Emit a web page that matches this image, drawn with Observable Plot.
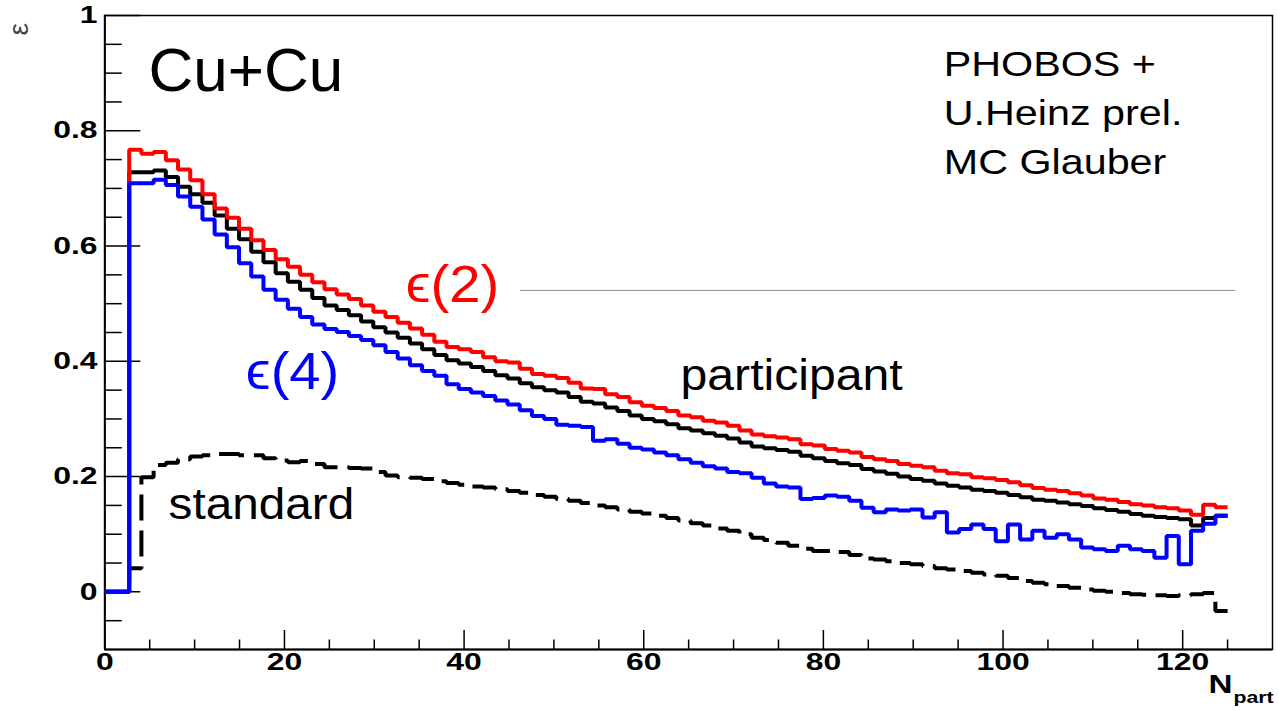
<!DOCTYPE html>
<html><head><meta charset="utf-8">
<script src="https://cdn.jsdelivr.net/npm/d3@7"></script>
<script src="https://cdn.jsdelivr.net/npm/@observablehq/plot@0.6"></script>
<style>html,body{margin:0;padding:0;background:#fff;} svg{display:block;}</style>
</head><body><div id="chart"></div>
<script>
// Histogram binning of Npart (92 bins from 0 to 125)
const binLow = 0, binHigh = 125, binCount = 92;

// epsilon(2) participant eccentricity (red)
const eps2 = [0,0,
0.767,0.760,0.763,0.749,0.733,0.714,0.690,0.665,0.649,0.630,
0.610,0.593,0.577,0.564,0.550,0.537,0.525,0.516,0.508,0.497,
0.486,0.477,0.467,0.457,0.446,0.434,0.425,0.421,0.416,0.407,
0.400,0.398,0.387,0.378,0.375,0.371,0.363,0.353,0.352,0.343,
0.338,0.329,0.323,0.319,0.314,0.306,0.303,0.297,0.294,0.288,
0.280,0.273,0.270,0.268,0.265,0.256,0.254,0.248,0.245,0.242,
0.234,0.230,0.227,0.222,0.219,0.216,0.210,0.206,0.204,0.199,
0.197,0.194,0.190,0.185,0.180,0.177,0.175,0.171,0.167,0.162,
0.160,0.156,0.152,0.150,0.147,0.145,0.141,0.134,0.151,0.147];

// participant eccentricity (black solid)
const epsPart = [0,0,
0.728,0.728,0.731,0.720,0.703,0.690,0.675,0.653,0.630,0.612,
0.590,0.572,0.553,0.538,0.524,0.510,0.497,0.489,0.480,0.469,
0.459,0.450,0.441,0.431,0.421,0.411,0.402,0.396,0.390,0.383,
0.376,0.370,0.362,0.355,0.350,0.346,0.338,0.330,0.327,0.320,
0.314,0.306,0.300,0.296,0.291,0.284,0.280,0.275,0.271,0.266,
0.259,0.252,0.249,0.246,0.243,0.236,0.232,0.227,0.223,0.220,
0.213,0.209,0.205,0.200,0.196,0.193,0.188,0.184,0.181,0.177,
0.175,0.172,0.168,0.164,0.160,0.158,0.155,0.152,0.149,0.145,
0.142,0.139,0.135,0.132,0.130,0.128,0.126,0.115,0.128,0.132];

// epsilon(4) (blue)
const eps4 = [0,0,
0.709,0.709,0.715,0.706,0.686,0.668,0.646,0.620,0.598,0.570,
0.547,0.524,0.507,0.491,0.477,0.464,0.456,0.451,0.444,0.437,
0.428,0.416,0.405,0.393,0.383,0.375,0.360,0.352,0.346,0.340,
0.332,0.325,0.315,0.305,0.300,0.290,0.288,0.286,0.262,0.265,
0.257,0.250,0.247,0.242,0.237,0.230,0.224,0.218,0.214,0.208,
0.206,0.198,0.188,0.183,0.181,0.161,0.163,0.167,0.165,0.158,
0.146,0.138,0.143,0.141,0.143,0.129,0.138,0.103,0.109,0.117,
0.109,0.088,0.117,0.091,0.106,0.094,0.100,0.091,0.077,0.074,
0.071,0.080,0.074,0.071,0.059,0.097,0.048,0.106,0.118,0.132];

// standard eccentricity (black dashed)
const epsStd = [0,0,
0.041,0.199,0.220,0.224,0.230,0.235,0.237,0.239,0.239,0.237,
0.237,0.232,0.228,0.225,0.227,0.222,0.216,0.216,0.215,0.214,
0.208,0.202,0.199,0.198,0.196,0.192,0.189,0.186,0.183,0.181,
0.178,0.175,0.172,0.168,0.165,0.161,0.158,0.154,0.150,0.147,
0.143,0.139,0.136,0.132,0.128,0.124,0.119,0.115,0.110,0.106,
0.100,0.094,0.090,0.085,0.080,0.075,0.071,0.071,0.069,0.064,
0.058,0.056,0.053,0.050,0.048,0.045,0.041,0.039,0.036,0.033,
0.030,0.028,0.024,0.019,0.016,0.013,0.010,0.007,0.004,0.002,
0.000,-0.002,-0.004,-0.005,-0.006,-0.007,-0.006,-0.004,-0.002,-0.033];

const xMajorTicks = [0,20,40,60,80,100,120];
const xMinorTicks = [5,10,15,25,30,35,45,50,55,65,70,75,85,90,95,105,110,115,125];
const yMajorTicks = [0,0.2,0.4,0.6,0.8,1];
const yMinorTicks = [-0.05,0.05,0.1,0.15,0.25,0.3,0.35,0.45,0.5,0.55,0.65,0.7,0.75,0.85,0.9,0.95];
const xTickLabels = ["0","20","40","60","80","100","120"];
const yTickLabels = ["0","0.2","0.4","0.6","0.8","1"];
const phobosLines = ["PHOBOS +","U.Heinz prel.","MC Glauber"];

const W = 1278, H = 710;
const M = {top: 15, right: 6, bottom: 61, left: 104.3};
const FW = W - M.left - M.right, FH = H - M.top - M.bottom;
const binWidth = (binHigh - binLow) / binCount;
function histRows(values) {
  const rows = values.map((v, i) => ({x: binLow + i * binWidth, y: v}));
  rows.push({x: binLow + values.length * binWidth, y: values[values.length - 1]});
  return rows;
}
const font = '"Liberation Sans", Arial, Helvetica, "DejaVu Sans", sans-serif';
const histStyle = {x: "x", y: "y", curve: "step-after", strokeWidth: 4, strokeLinejoin: "miter", strokeLinecap: "butt"};
const phobosY = [0.914, 0.830, 0.745];

const plot = Plot.plot({
  width: W, height: H,
  marginTop: M.top, marginRight: M.right, marginBottom: M.bottom, marginLeft: M.left,
  x: {domain: [0, 130], axis: null},
  y: {domain: [-0.1, 1], axis: null},
  style: {fontFamily: font, background: "white", color: "black", overflow: "visible"},
  marks: [
    Plot.frame({stroke: "black", strokeWidth: 1.5}),
    Plot.ruleX([0], {stroke: "black", strokeWidth: 2}),
    Plot.ruleY([-0.1], {stroke: "black", strokeWidth: 2}),
    Plot.tickX(xMajorTicks, {x: d => d, insetTop: FH - 19, stroke: "black", strokeWidth: 1.5}),
    Plot.tickX(xMinorTicks, {x: d => d, insetTop: FH - 9.5, stroke: "black", strokeWidth: 1.5}),
    Plot.tickY(yMajorTicks, {y: d => d, insetRight: FW - 36, stroke: "black", strokeWidth: 1.5}),
    Plot.tickY(yMinorTicks, {y: d => d, insetRight: FW - 17.5, stroke: "black", strokeWidth: 1.5}),
    Plot.ruleY([0.523], {x1: 46.3, x2: 125.9, stroke: "#8c8c8c", strokeWidth: 1}),
    Plot.line(histRows(epsStd), {...histStyle, stroke: "black", strokeDasharray: "26,10"}),
    Plot.line(histRows(epsPart), {...histStyle, stroke: "black"}),
    Plot.line(histRows(eps2), {...histStyle, stroke: "#ff0000"}),
    Plot.line(histRows(eps4), {...histStyle, stroke: "#0000ff"}),
    Plot.text(xMajorTicks, {x: d => d, text: (d, i) => xTickLabels[i], frameAnchor: "bottom", dy: 20, fontSize: 24, fontWeight: "bold", fill: "black"}),
    Plot.text(yMajorTicks, {y: d => d, text: (d, i) => yTickLabels[i], frameAnchor: "left", dx: -7.3, textAnchor: "end", fontSize: 24, fontWeight: "bold", fill: "black"}),
    Plot.text(["ε"], {text: d => d, x: -9.6, y: 0.976, rotate: -90, fontSize: 28, fill: "#444"}),
    Plot.text(["N"], {text: d => d, frameAnchor: "bottom-right", dx: -64, dy: 43, textAnchor: "start", fontSize: 25, fontWeight: "bold", fill: "black"}),
    Plot.text(["part"], {text: d => d, frameAnchor: "bottom-right", dx: -39, dy: 53, textAnchor: "start", fontSize: 16, fontWeight: "bold", fill: "black"}),
    Plot.text(["Cu+Cu"], {text: d => d, x: 4.87, y: 0.904, textAnchor: "start", fontSize: 62, fill: "black"}),
    ...phobosLines.map((line, i) => Plot.text([line], {text: d => d, x: 93.4, y: phobosY[i], textAnchor: "start", fontSize: 35, fill: "black"})),
    Plot.text(["ϵ(2)"], {text: d => d, x: 33.5, y: 0.532, textAnchor: "start", fontSize: 52, fill: "#ff0000"}),
    Plot.text(["ϵ(4)"], {text: d => d, x: 15.7, y: 0.381, textAnchor: "start", fontSize: 52, fill: "#0000ff"}),
    Plot.text(["participant"], {text: d => d, x: 64.1, y: 0.375, textAnchor: "start", fontSize: 45, fill: "black"}),
    Plot.text(["standard"], {text: d => d, x: 7.1, y: 0.152, textAnchor: "start", fontSize: 45, fill: "black"})
  ]
});
document.getElementById("chart").appendChild(plot);

// The labels in the reference are horizontally stretched: scale each text about its anchor (local x = 0)
const stretch = new Map([...xTickLabels, ...yTickLabels, "N", "part"].map(s => [s, 1.33]));
phobosLines.forEach(s => stretch.set(s, 1.18));
stretch.set("participant", 1.07);
stretch.set("standard", 1.06);
stretch.set("ϵ(2)", 1.08);
stretch.set("ϵ(4)", 1.08);
d3.select(plot).selectAll("text").each(function() {
  const s = stretch.get(this.textContent);
  if (!s) return;
  const t = this.getAttribute("transform") || "";
  this.setAttribute("transform", `${t} scale(${s},1)`);
});
</script>
</body></html>
